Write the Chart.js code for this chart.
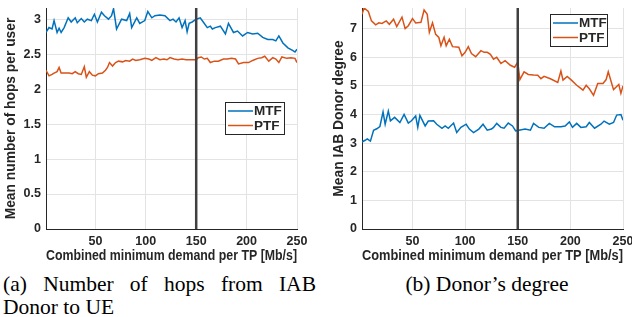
<!DOCTYPE html>
<html>
<head>
<meta charset="utf-8">
<script src="https://cdn.jsdelivr.net/npm/chart.js@4.4.1/dist/chart.umd.min.js"></script>
<style>
  html, body { margin: 0; padding: 0; background: #fff; }
  body { width: 632px; height: 317px; position: relative; overflow: hidden; }
  canvas { position: absolute; top: 0; }
  #hops { left: 0; }
  #degree { left: 320px; }
  .caption {
    position: absolute;
    font-family: "Liberation Serif", "Times New Roman", serif;
    font-size: 21.5px;
    line-height: 23px;
    color: #000;
  }
  #capA { left: 3px; top: 273px; width: 313px; text-align: justify; }
  #capB { left: 332px; top: 273px; width: 310px; text-align: center; }
</style>
</head>
<body>
<canvas id="hops" width="310" height="265"></canvas>
<canvas id="degree" width="312" height="265"></canvas>
<div class="caption" id="capA">(a) Number of hops from IAB Donor to UE</div>
<div class="caption" id="capB">(b) Donor’s degree</div>

<script>
// --- data ---
const xTicks = [50, 100, 150, 200, 250];
const hopsTicks = [0, 0.5, 1, 1.5, 2, 2.5, 3];
const degreeTicks = [0, 1, 2, 3, 4, 5, 6, 7];
const markerX = 150;

// (a) mean number of hops per user
const hopsMtfX = [1, 4, 7, 9, 12, 14, 16, 19, 23, 26, 30, 32, 36, 39, 42, 46, 49, 52, 56, 59, 63, 66, 68, 71, 76, 81, 84, 86, 91, 94, 99, 102, 106, 109, 114, 119, 124, 127, 130, 133, 136, 139, 141, 143, 146, 150, 154, 157, 161, 164, 166, 169, 174, 179, 182, 187, 191, 196, 201, 206, 211, 216, 221, 226, 229, 232, 236, 241, 246, 248, 250];
const hopsMtfY = [2.81, 2.88, 2.86, 2.98, 2.81, 2.87, 2.81, 2.88, 3.02, 2.96, 3.02, 2.95, 3.01, 2.96, 3.0, 2.98, 3.07, 2.96, 3.1, 3.05, 3.0, 3.05, 3.15, 2.86, 3.0, 2.98, 3.08, 2.88, 3.02, 2.94, 2.98, 3.11, 3.02, 3.05, 3.06, 3.05, 2.98, 3.0, 2.96, 3.02, 2.88, 2.98, 2.82, 2.94, 2.96, 3.0, 3.02, 2.96, 2.88, 2.9, 2.86, 2.88, 2.9, 2.79, 2.94, 2.81, 2.83, 2.76, 2.81, 2.79, 2.8, 2.74, 2.71, 2.71, 2.69, 2.76, 2.66, 2.59, 2.55, 2.53, 2.57];
const hopsPtfX = [1, 4, 7, 9, 12, 14, 16, 20, 24, 27, 30, 33, 36, 39, 41, 44, 47, 50, 53, 57, 60, 62, 64, 67, 70, 73, 77, 80, 84, 87, 90, 94, 99, 103, 106, 110, 114, 118, 121, 124, 128, 132, 136, 140, 145, 150, 152, 155, 158, 161, 164, 168, 172, 177, 181, 185, 189, 192, 197, 202, 206, 211, 215, 218, 222, 226, 229, 232, 235, 240, 244, 248, 250];
const hopsPtfY = [2.27, 2.19, 2.21, 2.23, 2.25, 2.31, 2.23, 2.23, 2.23, 2.22, 2.25, 2.22, 2.21, 2.32, 2.17, 2.25, 2.2, 2.19, 2.22, 2.23, 2.27, 2.31, 2.38, 2.33, 2.38, 2.4, 2.39, 2.41, 2.4, 2.43, 2.41, 2.42, 2.44, 2.43, 2.41, 2.45, 2.42, 2.43, 2.42, 2.45, 2.43, 2.42, 2.43, 2.42, 2.42, 2.42, 2.45, 2.46, 2.43, 2.44, 2.38, 2.4, 2.4, 2.43, 2.43, 2.44, 2.43, 2.36, 2.38, 2.38, 2.41, 2.44, 2.45, 2.47, 2.4, 2.45, 2.43, 2.38, 2.46, 2.44, 2.45, 2.44, 2.38];

// (b) mean IAB donor degree
const degMtfX = [2, 5, 7, 10, 13, 16, 19, 22, 24, 27, 29, 33, 38, 42, 46, 49, 53, 55, 57, 62, 65, 70, 73, 78, 81, 84, 89, 92, 96, 101, 104, 108, 113, 117, 121, 125, 127, 130, 134, 137, 141, 145, 148, 151, 157, 162, 165, 170, 175, 180, 185, 191, 195, 199, 202, 206, 210, 215, 218, 223, 229, 232, 237, 241, 244, 248, 250];
const degMtfY = [3.04, 3.1, 3.15, 3.07, 3.45, 3.5, 3.58, 4.09, 3.66, 4.12, 3.78, 3.9, 3.72, 4.0, 3.7, 3.78, 3.95, 3.55, 3.97, 3.6, 3.77, 3.78, 3.66, 3.52, 3.6, 3.52, 3.7, 3.37, 3.55, 3.66, 3.49, 3.37, 3.49, 3.66, 3.45, 3.49, 3.55, 3.69, 3.55, 3.52, 3.7, 3.6, 3.43, 3.45, 3.49, 3.45, 3.69, 3.55, 3.52, 3.69, 3.57, 3.57, 3.6, 3.74, 3.55, 3.69, 3.55, 3.57, 3.72, 3.52, 3.66, 3.77, 3.66, 3.72, 3.98, 4.0, 3.8];
const degPtfX = [2, 4, 8, 11, 15, 18, 21, 25, 28, 32, 35, 40, 43, 46, 50, 53, 58, 61, 64, 66, 69, 72, 75, 77, 80, 82, 85, 88, 94, 97, 100, 103, 106, 110, 115, 118, 121, 124, 127, 130, 134, 138, 143, 147, 150, 152, 156, 160, 165, 169, 172, 175, 181, 188, 191, 193, 197, 201, 206, 209, 212, 215, 218, 222, 226, 231, 234, 236, 239, 241, 244, 246, 248, 250];
const degPtfY = [7.5, 7.72, 7.6, 7.27, 7.13, 7.2, 7.18, 7.27, 7.15, 7.33, 7.07, 7.4, 7.0, 7.1, 7.35, 7.2, 7.22, 7.65, 7.5, 6.87, 7.2, 6.8, 6.69, 6.4, 6.7, 6.4, 6.63, 6.37, 6.35, 6.05, 6.17, 6.37, 6.13, 6.02, 6.23, 6.17, 6.17, 6.1, 5.93, 6.0, 5.78, 5.88, 5.72, 5.65, 5.83, 5.22, 5.49, 5.4, 5.38, 5.37, 5.25, 5.33, 5.25, 5.12, 5.52, 5.2, 5.33, 5.2, 5.02, 4.94, 4.85, 5.02, 4.9, 4.67, 5.08, 5.08, 5.22, 5.49, 5.12, 4.87, 4.98, 5.05, 4.74, 5.0];

const MTF_COLOR = '#0072BD';
const PTF_COLOR = '#D95319';
const INK = '#262626';
const FONT = '"Liberation Sans", Arial, Helvetica, sans-serif';

function pts(xs, ys) {
    return xs.map((x, i) => ({ x: x, y: ys[i] }));
}

// legend box drawn inside the plot, like the matlab one
const legendBox = {
    id: 'legendBox',
    afterDraw(chart, args, opts) {
        const ctx = chart.ctx;
        ctx.save();
        ctx.fillStyle = '#fff';
        ctx.fillRect(opts.x, opts.y, opts.w, opts.h);
        ctx.strokeStyle = INK;
        ctx.lineWidth = 1;
        ctx.strokeRect(opts.x + 0.5, opts.y + 0.5, opts.w - 1, opts.h - 1);
        ctx.font = 'bold 13.5px ' + FONT;
        ctx.textBaseline = 'middle';
        const sets = chart.data.datasets.filter(d => d.label);
        sets.forEach((ds, i) => {
            const ly = opts.y + 9 + i * 14.5;
            ctx.strokeStyle = ds.borderColor;
            ctx.lineWidth = 1.5;
            ctx.beginPath();
            ctx.moveTo(opts.x + 3, ly);
            ctx.lineTo(opts.x + 28, ly);
            ctx.stroke();
            ctx.fillStyle = INK;
            ctx.fillText(ds.label, opts.x + 29, ly + 0.5);
        });
        ctx.restore();
    }
};

function makeChart(id, cfg) {
    const ctx = document.getElementById(id).getContext('2d');
    return new Chart(ctx, {
        type: 'line',
        data: {
            datasets: [
                {
                    data: [{ x: markerX, y: 0 }, { x: markerX, y: cfg.yMax }],
                    borderColor: '#404040',
                    borderWidth: 2.5,
                    pointRadius: 0,
                    order: 0
                },
                {
                    label: 'MTF',
                    data: pts(cfg.mtfX, cfg.mtfY),
                    borderColor: MTF_COLOR,
                    borderWidth: 1.5,
                    pointRadius: 0,
                    tension: 0,
                    order: 1
                },
                {
                    label: 'PTF',
                    data: pts(cfg.ptfX, cfg.ptfY),
                    borderColor: PTF_COLOR,
                    borderWidth: 1.5,
                    pointRadius: 0,
                    tension: 0,
                    order: 2
                }
            ]
        },
        options: {
            responsive: false,
            animation: false,
            events: [],
            layout: { padding: { top: 8, right: cfg.padRight, left: 0, bottom: 0 } },
            plugins: {
                legend: { display: false },
                tooltip: { enabled: false },
                legendBox: cfg.legend
            },
            scales: {
                x: {
                    type: 'linear',
                    min: cfg.xMin,
                    max: 250,
                    afterBuildTicks: s => { s.ticks = xTicks.map(v => ({ value: v })); },
                    afterFit: s => { s.height = 36; s.paddingLeft = 0; s.paddingRight = 0; },
                    grid: { color: '#e3e3e3', lineWidth: 1, drawTicks: false },
                    border: { display: true, color: INK, width: 1 },
                    ticks: {
                        color: INK,
                        padding: 5,
                        maxRotation: 0,
                        font: { family: FONT, size: 12.5, weight: 'bold' },
                        callback: v => String(v)
                    },
                    title: {
                        display: true,
                        text: 'Combined minimum demand per TP [Mb/s]',
                        color: INK,
                        padding: { top: 0, bottom: 1 },
                        font: { family: FONT, size: 13.8, weight: 'bold' }
                    }
                },
                y: {
                    min: 0,
                    max: cfg.yMax,
                    afterBuildTicks: s => { s.ticks = cfg.yTicks.map(v => ({ value: v })); },
                    afterFit: s => { s.width = cfg.yWidth; s.paddingTop = 0; s.paddingBottom = 0; },
                    grid: { color: '#e3e3e3', lineWidth: 1, drawTicks: false },
                    border: { display: true, color: INK, width: 1 },
                    ticks: {
                        color: INK,
                        padding: 5,
                        font: { family: FONT, size: 12.5, weight: 'bold' },
                        callback: v => String(v)
                    },
                    title: {
                        display: true,
                        text: cfg.yTitle,
                        color: INK,
                        padding: { top: cfg.titlePad, bottom: 0 },
                        font: { family: FONT, size: 13.8, weight: 'bold' }
                    }
                }
            }
        },
        plugins: [legendBox]
    });
}

makeChart('hops', {
    mtfX: hopsMtfX, mtfY: hopsMtfY, ptfX: hopsPtfX, ptfY: hopsPtfY,
    xMin: 1, yMax: 3.16, yTicks: hopsTicks,
    yTitle: 'Mean number of hops per user',
    yWidth: 46, padRight: 13, titlePad: 3,
    legend: { x: 225, y: 102, w: 60, h: 33 }
});

makeChart('degree', {
    mtfX: degMtfX, mtfY: degMtfY, ptfX: degPtfX, ptfY: degPtfY,
    xMin: 2, yMax: 7.72, yTicks: degreeTicks,
    yTitle: 'Mean IAB Donor degree',
    yWidth: 42, padRight: 9, titlePad: 11,
    legend: { x: 230, y: 14, w: 58, h: 33 }
});
</script>
</body>
</html>
